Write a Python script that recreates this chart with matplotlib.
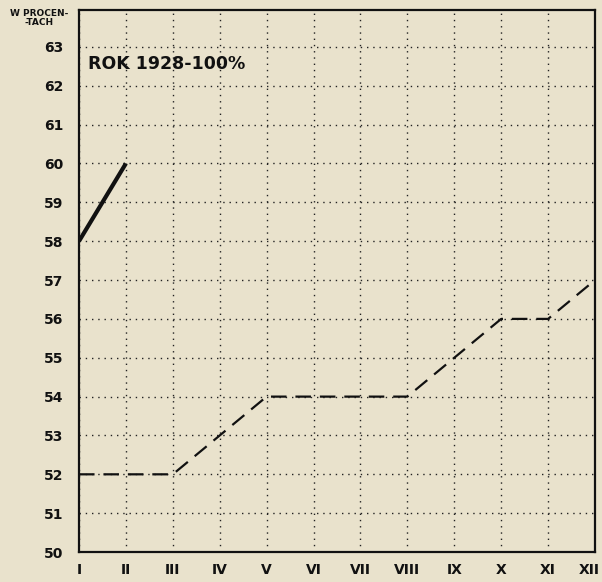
import matplotlib
matplotlib.use("Agg")
import matplotlib.pyplot as plt
from matplotlib.transforms import ScaledTranslation

months = ["I", "II", "III", "IV", "V", "VI", "VII", "VIII", "IX", "X", "XI", "XII"]
series_1928 = [52, 52, 52, 53, 54, 54, 54, 54, 55, 56, 56, 57]
months_1929 = ["I", "II"]
series_1929 = [58, 60]
yticks = list(range(50, 64))

bg = "#e9e2cc"
fig = plt.figure(figsize=(6.02, 5.82), dpi=100, facecolor=bg)
ax = fig.add_axes([0.1312, 0.0515, 0.8572, 0.9313])
ax.set_facecolor(bg)

x_all = list(range(1, len(months) + 1))
x_1929 = [months.index(m) + 1 for m in months_1929]

ax.plot(x_all, series_1928, color="#111111", lw=1.6, dashes=(7, 4), zorder=3)
ax.plot(x_1929, series_1929, color="#111111", lw=3.0, solid_capstyle="butt", zorder=3)

ax.set_xlim(1, 12)
ax.set_ylim(50, 63.95)
ax.set_xticks(x_all)
ax.set_xticklabels(months, fontsize=10, fontweight="bold")
ax.set_yticks(yticks)
ax.set_yticklabels([str(v) for v in yticks], fontsize=10, fontweight="bold")
ax.tick_params(axis="both", length=0, colors="#111111")
ax.tick_params(axis="y", pad=11)
ax.tick_params(axis="x", pad=8)

last = ax.get_xticklabels()[-1]
last.set_horizontalalignment("right")
last.set_transform(last.get_transform() + ScaledTranslation(5 / 100, 0, fig.dpi_scale_trans))

ax.grid(True, color="#222222", lw=1.0, linestyle=(0, (1, 3.5)))
ax.set_axisbelow(True)
for s in ax.spines.values():
    s.set_color("#111111")
    s.set_linewidth(1.6)

ax.text(1.2, 62.55, "ROK 1928-100%", fontsize=12.5, fontweight="bold", color="#111111",
        va="center", ha="left")
fig.text(0.113, 0.985, "W PROCEN-\n-TACH", fontsize=6.5, fontweight="bold",
         ha="right", va="top", color="#111111", linespacing=1.1, multialignment="center")

fig.savefig("out.png", dpi=100, facecolor=bg)
